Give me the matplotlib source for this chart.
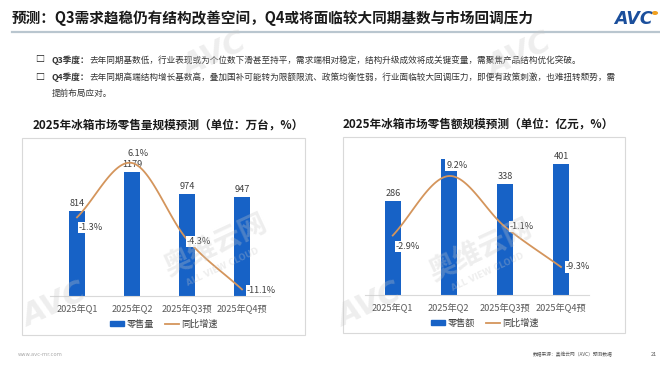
import numpy as np
import matplotlib
matplotlib.use('Agg')
import matplotlib.pyplot as plt
from matplotlib.patches import Rectangle, Patch, Circle
from matplotlib.lines import Line2D

plt.rcParams['font.family'] = ['Noto Sans CJK SC', 'DejaVu Sans']

# ---------------- data ----------------
quarters = ['2025年Q1', '2025年Q2', '2025年Q3预', '2025年Q4预']
volume = [814, 1179, 974, 947]          # 万台
volume_yoy = [-1.3, 6.1, -4.3, -11.1]   # %
value = [286, 414, 338, 401]            # 亿元 (Q2 label hidden in source)
value_yoy = [-2.9, 9.2, -1.1, -9.3]     # %

main_title = '预测：Q3需求趋稳仍有结构改善空间，Q4或将面临较大同期基数与市场回调压力'
bullets = [
    ('Q3季度：', '去年同期基数低，行业表现或为个位数下滑甚至持平，需求端相对稳定，结构升级成效将成关键变量，需聚焦产品结构优化突破。'),
    ('Q4季度：', '去年同期高端结构增长基数高，叠加国补可能转为限额限流、政策均衡性弱，行业面临较大回调压力，即便有政策刺激，也难扭转颓势，需'),
    ('', '提前布局应对。'),
]
left_title = '2025年冰箱市场零售量规模预测（单位：万台，%）'
right_title = '2025年冰箱市场零售额规模预测（单位：亿元，%）'
left_legend = ['零售量', '同比增速']
right_legend = ['零售额', '同比增速']

BLUE = '#1762C6'
ORANGE = '#D4955C'
W, H = 660, 370

fig = plt.figure(figsize=(6.6, 3.7), dpi=100)


def frac_rect(x0, y0, x1, y1):
    return [x0 / W, 1 - y1 / H, (x1 - x0) / W, (y1 - y0) / H]


def fx(x):
    return x / W


def fy(y):
    return 1 - y / H


def smooth(xs, ys, n=40):
    P = np.column_stack([xs, ys]).astype(float)
    ext = np.vstack([2 * P[0] - P[1], P, 2 * P[-1] - P[-2]])
    out = []
    for i in range(len(P) - 1):
        p0, p1, p2, p3 = ext[i], ext[i + 1], ext[i + 2], ext[i + 3]
        c1 = p1 + (p2 - p0) / 6
        c2 = p2 - (p3 - p1) / 6
        t = np.linspace(0, 1, n)[:, None]
        seg = (1 - t) ** 3 * p1 + 3 * (1 - t) ** 2 * t * c1 + 3 * (1 - t) * t ** 2 * c2 + t ** 3 * p2
        out.append(seg if i == 0 else seg[1:])
    return np.vstack(out)


# ---------------- header ----------------
fig.text(fx(12), fy(18), main_title, fontsize=10.5, fontweight='bold', color='#1a1a1a',
         ha='left', va='center')
fig.add_artist(Line2D([fx(12), 1.0], [fy(32), fy(32)], transform=fig.transFigure,
                      color='#b9c6cf', lw=1.6))
fig.text(fx(653), fy(19), 'AVC', fontsize=12.5, fontweight='bold', style='italic',
         color='#1b4f9c', ha='right', va='center', family='DejaVu Sans')
fig.add_artist(Circle((fx(655), fy(13)), 0.0035, transform=fig.transFigure,
                      color='#f0a020'))

ys = [60, 77, 93]
for (head, body), y in zip(bullets, ys):
    if head:
        fig.text(fx(40), fy(y), '□', fontsize=6.5, fontweight='bold', color='#222222',
                 ha='center', va='center')
        fig.text(fx(52), fy(y), head, fontsize=6.2, fontweight='bold', color='#333333',
                 ha='left', va='center')
        fig.text(fx(89), fy(y), body, fontsize=6.2, color='#333333', ha='left', va='center')
    else:
        fig.text(fx(52), fy(y), body, fontsize=6.2, color='#333333', ha='left', va='center')


# ---------------- charts ----------------
def chart(box, axbox, title, title_x, vals, yoy, ymax, plim, legend_labels, legend_xy,
          pct_offsets, show_val):
    fig.add_artist(Rectangle((fx(box[0]), fy(box[3])), (box[2] - box[0]) / W,
                             (box[3] - box[1]) / H, transform=fig.transFigure,
                             fc='white', ec='#d9d9d9', lw=0.8, zorder=-1))
    fig.text(fx(title_x), fy(box[1] - 13), title, fontsize=8.4, fontweight='bold',
             color='#1a1a1a', ha='center', va='center')
    ax = fig.add_axes(frac_rect(*axbox))
    ax.patch.set_alpha(0)
    x = np.arange(len(vals))
    ax.bar(x, vals, width=0.285, color=BLUE, zorder=2)
    ax.set_xlim(-0.5, len(vals) - 0.5)
    ax.set_ylim(0, ymax)
    for s in ['top', 'left', 'right']:
        ax.spines[s].set_visible(False)
    ax.spines['bottom'].set_color('#d9d9d9')
    ax.spines['bottom'].set_linewidth(0.8)
    ax.set_yticks([])
    ax.set_xticks(x)
    ax.set_xticklabels(quarters, fontsize=6.6, color='#595959')
    ax.tick_params(axis='x', length=0, pad=6)
    for xi, v, sv in zip(x, vals, show_val):
        if sv:
            ax.annotate(f'{v}', (xi, v), xytext=(0, 2), textcoords='offset points',
                        ha='center', va='bottom', fontsize=6.6, color='#404040')

    ax2 = ax.twinx()
    ax2.set_ylim(*plim)
    ax2.axis('off')
    curve = smooth(x, yoy)
    ax2.plot(curve[:, 0], curve[:, 1], color=ORANGE, lw=1.3, zorder=3)
    for xi, p, (dx, dy, ha) in zip(x, yoy, pct_offsets):
        ax2.annotate(f'{p}%', (xi, p), xytext=(dx * 0.72, dy * 0.72), textcoords='offset points',
                     ha=ha, va='center', fontsize=6.6, color='#404040', zorder=5,
                     bbox=dict(boxstyle='square,pad=0.12', fc='white', ec='none'))

    handles = [Patch(color=BLUE), Line2D([0], [0], color=ORANGE, lw=1.3)]
    fig.legend(handles, legend_labels, loc='center', bbox_to_anchor=(fx(legend_xy[0]), fy(legend_xy[1])),
               ncol=2, frameon=False, fontsize=6.6, handlelength=1.5, handleheight=0.5,
               handletextpad=0.3, columnspacing=1.2, labelcolor='#404040')


chart((22, 138, 305, 335), (49.5, 149, 269.5, 296), left_title, 168, volume, volume_yoy,
      1400, (-12, 8), left_legend, (164, 324),
      [(2, -10, 'left'), (6, 9, 'center'), (0, -2, 'left'), (5, -1, 'left')],
      [True, True, True, True])
chart((343, 137, 625, 333), (364.7, 147.5, 589, 295), right_title, 478, value, value_yoy,
      450, (-15, 15), right_legend, (485, 323),
      [(3, -11, 'left'), (8, 11, 'center'), (5, 0, 'left'), (5, 0, 'left')],
      [True, False, True, True])

# ---------------- watermarks ----------------
wm = dict(color='#c8c8c8', alpha=0.3, fontweight='bold', ha='center', va='center', zorder=10)
for (cx, cy) in [(215, 245), (480, 250)]:
    fig.text(fx(cx), fy(cy), '奥维云网', fontsize=20, rotation=25, **wm)
    fig.text(fx(cx + 8), fy(cy + 22), 'ALL VIEW CLOUD', fontsize=6, rotation=25,
             family='DejaVu Sans', **wm)
for (cx, cy) in [(55, 305), (370, 305), (215, 55), (520, 55)]:
    fig.text(fx(cx), fy(cy), 'AVC', fontsize=22, rotation=25, family='DejaVu Sans',
             style='italic', **wm)

# ---------------- footer ----------------
fig.text(fx(18), fy(355), 'www.avc-mr.com', fontsize=3.8, color='#aaaaaa', ha='left',
         va='center', family='DejaVu Sans')
fig.text(fx(613), fy(354), '数据来源：奥维云网（AVC）预测数据', fontsize=3.4, color='#555555',
         ha='right', va='center')
fig.text(fx(654), fy(354), '21', fontsize=4, color='#555555', ha='center', va='center')

fig.savefig('out.png', dpi=100)
